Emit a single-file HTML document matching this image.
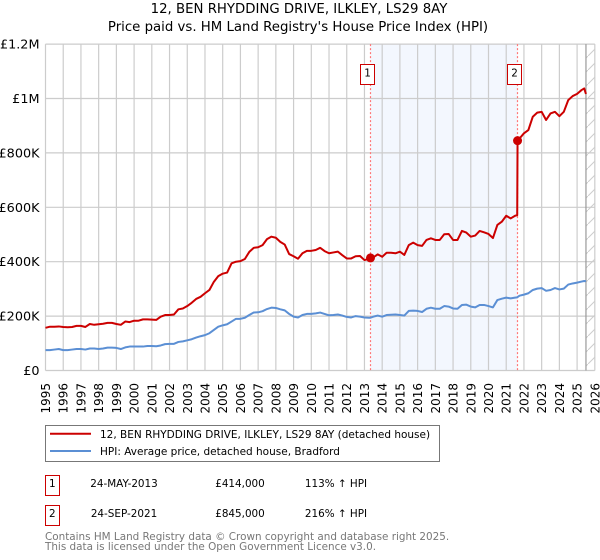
<!DOCTYPE html>
<html><head><meta charset="utf-8"><style>
html,body{margin:0;padding:0;background:#fff}
svg{display:block}
text{font-family:"DejaVu Sans",sans-serif;fill:#000}
</style></head><body>
<svg id="chart" width="600" height="560" viewBox="0 0 600 560" xmlns="http://www.w3.org/2000/svg">
<defs><pattern id="hatch" patternUnits="userSpaceOnUse" width="14" height="14"><path d="M-1 15L15 -1" stroke="#ccc" stroke-width="1" fill="none"/></pattern></defs>
<text x="299" y="13" text-anchor="middle" font-size="13.3">12, BEN RHYDDING DRIVE, ILKLEY, LS29 8AY</text>
<text x="298" y="31" text-anchor="middle" font-size="13.3">Price paid vs. HM Land Registry's House Price Index (HPI)</text>
<g id="plot"></g>
<g>
<rect x="45.5" y="425.5" width="394" height="36" fill="#fff" stroke="#777" stroke-width="1"/>
<line x1="50" x2="91" y1="433.7" y2="433.7" stroke="#c00" stroke-width="2"/>
<text x="100" y="438" font-size="10.5">12, BEN RHYDDING DRIVE, ILKLEY, LS29 8AY (detached house)</text>
<line x1="50" x2="91" y1="451" y2="451" stroke="#5b8fd4" stroke-width="2"/>
<text x="100" y="455" font-size="10.5">HPI: Average price, detached house, Bradford</text>
</g>
<g>
<rect x="45.5" y="475.5" width="14" height="20" fill="#fff" stroke="#c00" stroke-width="1"/>
<text x="52.3" y="487" text-anchor="middle" font-size="10.4">1</text>
<text x="124" y="487" text-anchor="middle" font-size="10.4">24-MAY-2013</text>
<text x="240" y="487" text-anchor="middle" font-size="10.4">£414,000</text>
<text x="336" y="487" text-anchor="middle" font-size="10.4">113% ↑ HPI</text>
</g>
<g>
<rect x="45.5" y="505.5" width="14" height="20" fill="#fff" stroke="#c00" stroke-width="1"/>
<text x="52.3" y="517" text-anchor="middle" font-size="10.4">2</text>
<text x="124" y="517" text-anchor="middle" font-size="10.4">24-SEP-2021</text>
<text x="240" y="517" text-anchor="middle" font-size="10.4">£845,000</text>
<text x="336" y="517" text-anchor="middle" font-size="10.4">216% ↑ HPI</text>
</g>
<text x="45" y="540" font-size="10.4" style="fill:#777">Contains HM Land Registry data © Crown copyright and database right 2025.</text>
<text x="45" y="550" font-size="10.4" style="fill:#777">This data is licensed under the Open Government Licence v3.0.</text>
</svg>
<script>
const dates = [
1995,1995.25,1995.5,1995.75,1996,1996.25,1996.5,1996.75,1997,1997.25,1997.5,1997.75,
1998,1998.25,1998.5,1998.75,1999,1999.25,1999.5,1999.75,2000,2000.25,2000.5,2000.75,
2001,2001.25,2001.5,2001.75,2002,2002.25,2002.5,2002.75,2003,2003.25,2003.5,2003.75,
2004,2004.25,2004.5,2004.75,2005,2005.25,2005.5,2005.75,2006,2006.25,2006.5,2006.75,
2007,2007.25,2007.5,2007.75,2008,2008.25,2008.5,2008.75,2009,2009.25,2009.5,2009.75,
2010,2010.25,2010.5,2010.75,2011,2011.25,2011.5,2011.75,2012,2012.25,2012.5,2012.75,
2013,2013.25,2013.34,2013.5,2013.75,2014,2014.25,2014.5,2014.75,2015,2015.25,2015.5,2015.75,
2016,2016.25,2016.5,2016.75,2017,2017.25,2017.5,2017.75,2018,2018.25,2018.5,2018.75,
2019,2019.25,2019.5,2019.75,2020,2020.25,2020.5,2020.75,
2021,2021.25,2021.5,2021.62,2021.64,2021.75,2022,2022.25,2022.5,2022.75,
2023,2023.25,2023.5,2023.75,2024,2024.25,2024.5,2024.75,2025,2025.25,2025.4,2025.5];
const pricePaid = [
157,161,161,162,160,159,160,164,164,160,171,168,
170,172,175,175,171,168,180,178,183,183,188,188,
187,186,198,204,204,206,225,228,237,249,263,271,
284,296,326,347,356,360,394,400,402,410,436,451,
453,461,483,492,488,473,463,428,420,411,431,440,
440,443,451,439,431,434,437,424,412,412,420,421,
406,410,414,416,427,418,433,433,431,437,425,461,470,
461,458,480,486,480,480,501,502,480,480,513,507,
492,496,513,508,502,487,535,547,
569,559,569,571,845,853,872,884,933,948,
951,921,945,951,935,951,994,1009,1017,1031,1037,1017];
const hpi = [
75,75,77,79,75,75,77,79,79,77,81,81,
79,81,84,84,83,79,85,88,88,88,88,90,
90,89,92,97,98,98,105,107,111,115,121,126,
130,137,149,161,166,170,180,190,190,194,204,213,
214,218,226,231,230,225,221,208,198,195,204,208,
208,210,213,208,203,204,206,202,197,195,200,198,
195,194,194,198,202,198,204,205,206,204,202,219,220,
219,215,227,231,227,227,237,235,228,227,241,242,
235,232,241,241,237,232,259,264,
268,265,268,269,270,275,279,284,296,301,
303,293,296,303,298,301,316,320,323,327,329,328];
const xTickYears = [1995,1996,1997,1998,1999,2000,2001,2002,2003,2004,2005,2006,2007,2008,2009,2010,2011,2012,2013,2014,2015,2016,2017,2018,2019,2020,2021,2022,2023,2024,2025,2026];
const yTickValues = [0,200,400,600,800,1000,1200];
const yTickLabels = ["£0","£200K","£400K","£600K","£800K","£1M","£1.2M"];
const saleNumbers = ["1","2"];
const saleDates = [2013.34,2021.64];
const salePrices = [414,845];
const dataEndDate = 2025.5;

const NS = "http://www.w3.org/2000/svg";
const plot = document.getElementById("plot");
const xOf = d => 45.5 + (d - 1995) * 17.72;
const yOf = v => 370.5 - v * 0.272;
const left = xOf(1995), right = xOf(2026), top_ = yOf(1200), bottom = yOf(0);

function mk(tag, attrs, parent) {
  const el = document.createElementNS(NS, tag);
  for (const k in attrs) el.setAttribute(k, attrs[k]);
  (parent || plot).appendChild(el);
  return el;
}

const band = mk("rect", {x: xOf(saleDates[0]), y: top_, width: xOf(saleDates[1]) - xOf(saleDates[0]), height: bottom - top_, fill: "#f3f7fe"});



const hatchRect = mk("rect", {x: xOf(dataEndDate), y: top_, width: right - xOf(dataEndDate), height: bottom - top_, fill: "url(#hatch)"});



yTickValues.forEach((v, i) => {
  const g = mk("line", {x1: left, x2: right, y1: yOf(v), y2: yOf(v), stroke: "#ccc", "stroke-width": 1.2});
  
  
  const t = mk("text", {x: 39.5, y: yOf(v) + 4.5, "text-anchor": "end", "font-size": 12.8});
  
  
  t.textContent = yTickLabels[i];
});

xTickYears.forEach(yr => {
  const g = mk("line", {x1: xOf(yr), x2: xOf(yr), y1: top_, y2: bottom, stroke: "#ccc", "stroke-width": 1.2});
  
  
  const t = mk("text", {transform: "translate(" + (xOf(yr) + 4.5) + ",383) rotate(-90)", "text-anchor": "end", "font-size": 12});
  
  
  t.textContent = yr;
});

const endLine = mk("line", {x1: xOf(dataEndDate), x2: xOf(dataEndDate), y1: top_, y2: bottom, stroke: "#999", "stroke-width": 1.2});



saleDates.forEach(d => {
  const sx = Math.floor(xOf(d)) + 0.5;
  const l = mk("line", {x1: sx, x2: sx, y1: top_, y2: bottom, stroke: "#f77", "stroke-width": 1.2, "stroke-dasharray": "2 2"});
  
  
});

const pathOf = vals => dates.map((d, i) => (i ? "L" : "M") + xOf(d).toFixed(2) + " " + yOf(vals[i]).toFixed(2)).join("");

const hpiLine = mk("path", {d: pathOf(hpi), fill: "none", stroke: "#5b8fd4", "stroke-width": 2, "stroke-linejoin": "round"});



const paidLine = mk("path", {d: pathOf(pricePaid), fill: "none", stroke: "#c00", "stroke-width": 2, "stroke-linejoin": "round"});



saleDates.forEach((d, i) => {
  const c = mk("circle", {cx: xOf(d), cy: yOf(salePrices[i]), r: 4.5, fill: "#c00"});
  
  
  const bx = Math.floor(xOf(d)) - 9.5;
  const r = mk("rect", {x: bx, y: 64.5, width: 14, height: 20, fill: "#fff", stroke: "#c00", "stroke-width": 1});
  
  
  const t = mk("text", {x: bx + 7, y: 76.5, "text-anchor": "middle", "font-size": 10.4});
  
  
  t.textContent = saleNumbers[i];
});
</script>
</body></html>
